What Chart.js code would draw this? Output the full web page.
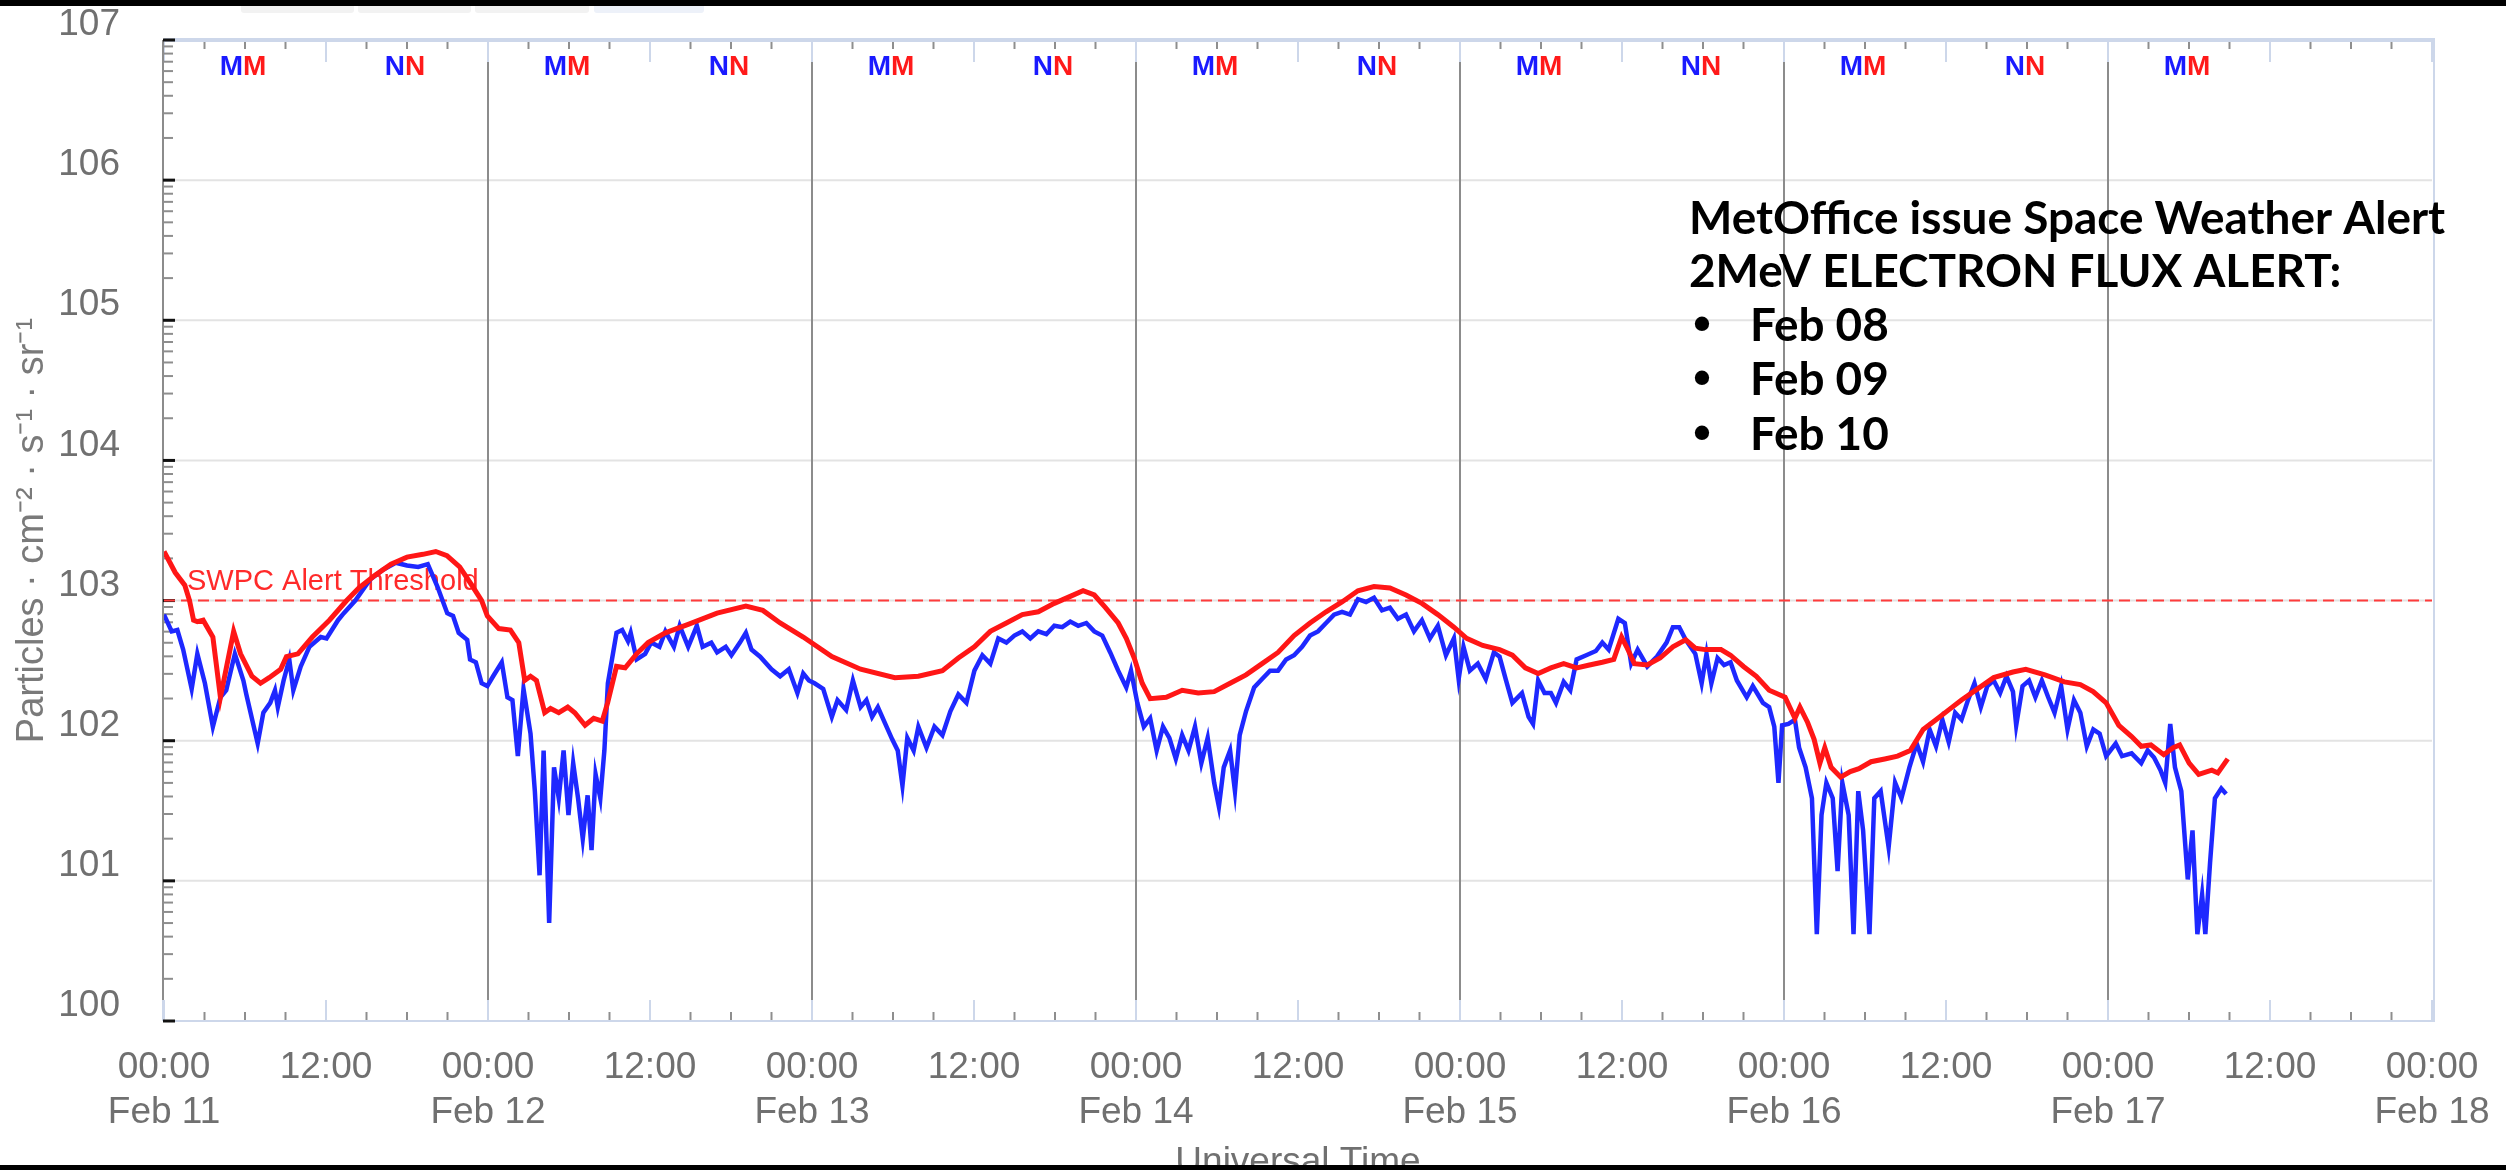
<!DOCTYPE html>
<html>
<head>
<meta charset="utf-8">
<title>GOES electron flux</title>
<script src="https://cdn.jsdelivr.net/npm/chart.js@4.4.1/dist/chart.umd.min.js"></script>
<style>
html,body{margin:0;padding:0;background:#fff;overflow:hidden;}
#wrap{position:relative;width:2506px;height:1170px;background:#fff;}
#c{position:absolute;left:0;top:0;}
.band{position:absolute;left:0;width:2506px;background:#000;}
.tab{position:absolute;top:6px;height:7px;background:#f2f2f2;border-radius:0 0 3px 3px;}
</style>
</head>
<body>
<div id="wrap">
<canvas id="c" width="2506" height="1170"></canvas>
<div class="tab" style="left:241px;width:113px"></div>
<div class="tab" style="left:358px;width:113px"></div>
<div class="tab" style="left:475px;width:114px"></div>
<div class="tab" style="left:594px;width:110px;background:#edf1f9"></div>
<div class="band" style="top:0;height:6px"></div>
<div class="band" style="top:1165px;height:5px"></div>
</div>
<script>
// ---------------- DATA (hours since Feb 11 00:00 UT, log10 of flux) ----------------
const dayLabels = ['Feb 11','Feb 12','Feb 13','Feb 14','Feb 15','Feb 16','Feb 17','Feb 18'];
const xTickHours = [0,12,24,36,48,60,72,84,96,108,120,132,144,156,168];
const yTickValues = [0,1,2,3,4,5,6,7];
const yTickLabels = ['100','101','102','103','104','105','106','107'];
const yTitle = 'Particles \u00b7 cm\u207b\u00b2 \u00b7 s\u207b\u00b9 \u00b7 sr\u207b\u00b9';
const xTitle = 'Universal Time';
const alertThreshold = 3;          // log10(1000)
const alertLabel = 'SWPC Alert Threshold';

const blueHours = [
0,0.57,0.99,1.42,2.05,2.47,3.03,3.62,4.18,4.61,
5.25,5.88,6.10,6.94,7.36,7.87,8.22,8.43,8.86,9.28,
9.58,10.13,10.77,11.61,12.04,12.89,13.32,14.17,15.27,16.22,
17.17,18.00,18.83,19.54,20.25,20.98,21.41,21.83,22.46,22.67,
23.10,23.53,23.95,24.38,25.02,25.44,25.81,26.21,26.63,27.15,
27.47,27.82,28.12,28.53,28.89,29.24,29.60,29.96,30.31,30.67,
31.02,31.38,31.67,31.97,32.32,32.62,32.88,33.52,33.94,34.37,
34.57,35.01,35.64,36.08,36.70,37.14,37.77,38.20,38.83,39.47,
39.90,40.54,40.97,41.61,42.03,42.66,43.10,43.52,44.16,45.00,
45.64,46.28,46.92,47.35,47.77,48.19,48.83,49.47,49.89,50.53,
51.03,51.60,52.03,52.45,52.88,53.52,53.94,54.35,54.70,55.06,
55.53,55.88,56.48,57.07,57.66,58.25,58.84,59.44,60.03,60.62,
61.21,61.80,62.40,62.99,63.58,64.17,64.76,65.36,65.95,66.54,
67.13,67.72,68.32,68.91,69.50,70.09,70.68,71.28,71.63,72.10,
72.58,73.05,73.53,74.00,74.47,74.95,75.42,75.89,76.37,76.84,
77.31,77.79,78.14,78.50,78.97,79.33,79.68,80.15,80.75,81.34,
81.93,82.52,83.12,83.71,84.30,84.89,85.48,86.08,86.67,87.26,
87.85,88.44,89.04,89.63,90.22,90.81,91.40,92.00,92.59,93.18,
93.77,94.36,94.96,95.55,95.90,96.26,96.73,97.32,97.91,98.51,
98.93,99.41,99.88,100.59,101.08,101.41,101.79,102.26,102.73,103.11,
103.68,104.17,104.64,105.35,106.06,106.54,107.01,107.73,108.21,108.68,
109.16,109.87,110.59,111.30,111.77,112.24,112.72,113.43,113.90,114.26,
114.62,115.08,115.56,116.04,116.51,117.24,117.69,118.19,118.44,118.90,
119.28,119.59,119.86,120.33,120.81,121.12,121.60,122.07,122.43,122.78,
123.14,123.61,123.97,124.32,124.79,125.15,125.50,125.86,126.33,126.69,
127.16,127.75,128.23,128.70,129.29,129.83,130.30,130.79,131.26,131.73,
132.20,132.68,133.15,133.63,134.11,134.58,135.06,135.53,136.01,136.48,
136.96,137.20,137.67,138.15,138.62,139.10,139.57,140.04,140.53,141.00,
141.48,141.95,142.43,142.91,143.38,143.86,144.57,145.04,145.75,146.46,
146.94,147.41,147.89,148.24,148.61,148.96,149.43,149.91,150.26,150.62,
150.97,151.21,151.56,151.92,152.39,152.75];

const blueLog = [
2.90,2.78,2.79,2.65,2.37,2.62,2.41,2.10,2.31,2.36,
2.62,2.43,2.33,1.98,2.20,2.27,2.36,2.24,2.43,2.58,
2.36,2.53,2.67,2.74,2.73,2.86,2.91,3.00,3.15,3.22,
3.27,3.25,3.24,3.26,3.10,2.91,2.89,2.77,2.72,2.58,
2.56,2.41,2.39,2.46,2.56,2.31,2.29,1.89,2.37,2.05,
1.64,1.04,1.93,0.70,1.81,1.59,1.93,1.47,1.84,1.59,
1.30,1.61,1.22,1.76,1.59,1.93,2.41,2.77,2.79,2.71,
2.77,2.58,2.62,2.70,2.67,2.78,2.67,2.82,2.67,2.82,
2.67,2.70,2.63,2.67,2.61,2.70,2.77,2.65,2.60,2.51,
2.46,2.51,2.34,2.48,2.43,2.41,2.37,2.17,2.29,2.22,
2.43,2.24,2.29,2.17,2.24,2.10,2.01,1.93,1.68,2.02,
1.93,2.10,1.95,2.10,2.04,2.21,2.33,2.27,2.50,2.61,
2.55,2.73,2.70,2.75,2.78,2.73,2.78,2.76,2.82,2.81,
2.85,2.82,2.84,2.78,2.75,2.63,2.50,2.38,2.50,2.27,
2.10,2.16,1.93,2.10,2.02,1.87,2.04,1.93,2.10,1.84,
2.02,1.70,1.53,1.81,1.93,1.64,2.04,2.21,2.38,2.44,
2.50,2.50,2.58,2.61,2.67,2.75,2.78,2.84,2.90,2.92,
2.90,3.01,2.99,3.02,2.93,2.95,2.87,2.90,2.78,2.86,
2.73,2.82,2.61,2.73,2.44,2.67,2.50,2.55,2.44,2.63,
2.60,2.43,2.27,2.34,2.17,2.12,2.43,2.34,2.34,2.27,
2.42,2.36,2.58,2.61,2.64,2.70,2.65,2.87,2.84,2.55,
2.65,2.53,2.60,2.70,2.81,2.81,2.72,2.62,2.41,2.62,
2.41,2.59,2.54,2.56,2.43,2.31,2.39,2.31,2.27,2.24,
2.10,1.70,2.11,2.12,2.15,1.95,1.81,1.59,0.62,1.47,
1.70,1.59,1.07,1.70,1.47,0.62,1.64,1.36,0.62,1.59,
1.64,1.24,1.70,1.59,1.81,1.98,1.85,2.08,1.96,2.15,
1.99,2.20,2.15,2.29,2.41,2.24,2.39,2.43,2.34,2.46,
2.35,2.11,2.39,2.43,2.31,2.43,2.31,2.20,2.39,2.08,
2.29,2.20,1.96,2.08,2.05,1.89,1.98,1.89,1.91,1.84,
1.93,1.88,1.79,1.70,2.12,1.81,1.64,1.01,1.36,0.62,
0.90,0.62,1.13,1.59,1.66,1.62];

const redHours = [
0,0.83,1.54,1.89,2.19,2.47,2.90,3.62,4.18,4.62,
5.16,5.67,6.51,7.15,7.79,8.64,9.07,9.92,10.99,12.25,
13.53,14.44,15.63,16.81,18.00,19.18,20.13,20.96,21.90,22.73,
23.53,23.95,24.80,25.66,26.28,26.72,27.15,27.59,28.20,28.63,
29.24,29.91,30.43,31.19,31.83,32.46,32.86,33.52,34.16,35.01,
35.86,37.14,38.83,40.97,43.10,44.36,45.64,47.35,49.47,51.60,
54.14,55.88,57.66,58.84,60.03,61.21,62.40,63.58,64.76,65.95,
67.13,68.08,68.91,69.74,70.68,71.28,71.87,72.46,73.05,74.24,
75.42,76.61,77.79,78.97,80.15,81.34,82.52,83.71,84.89,86.08,
87.26,88.44,89.63,90.81,92.00,93.18,94.36,95.55,96.49,97.68,
98.93,99.88,100.84,101.79,102.73,103.68,104.64,105.59,106.54,107.39,
107.97,108.34,108.92,109.87,110.82,111.77,112.72,113.43,114.15,115.33,
116.04,117.00,117.95,118.90,119.37,120.08,120.81,121.18,121.75,122.23,
122.66,123.02,123.49,124.20,124.91,125.55,126.45,127.46,128.41,129.35,
130.31,131.26,132.20,133.15,134.34,135.53,136.96,137.91,139.33,140.77,
141.95,142.90,143.86,144.80,145.75,146.46,147.18,148.13,148.83,149.31,
150.01,150.72,151.69,152.14,152.87];

const redLog = [
3.35,3.20,3.11,3.00,2.86,2.85,2.86,2.74,2.31,2.52,
2.78,2.62,2.46,2.41,2.45,2.51,2.60,2.62,2.74,2.86,
3.00,3.09,3.18,3.26,3.31,3.33,3.35,3.32,3.24,3.12,
3.00,2.89,2.80,2.79,2.70,2.43,2.46,2.43,2.20,2.23,
2.20,2.24,2.20,2.11,2.16,2.14,2.27,2.53,2.52,2.62,
2.70,2.77,2.83,2.91,2.96,2.93,2.84,2.74,2.60,2.51,
2.45,2.46,2.50,2.59,2.67,2.78,2.84,2.90,2.92,2.98,
3.03,3.07,3.04,2.95,2.84,2.73,2.59,2.41,2.30,2.31,
2.36,2.34,2.35,2.41,2.47,2.55,2.63,2.75,2.84,2.92,
2.99,3.07,3.10,3.09,3.04,2.98,2.90,2.81,2.73,2.68,
2.65,2.61,2.52,2.48,2.52,2.55,2.52,2.54,2.56,2.58,
2.74,2.67,2.55,2.54,2.59,2.67,2.72,2.66,2.65,2.65,
2.61,2.53,2.46,2.36,2.34,2.31,2.16,2.24,2.13,2.01,
1.84,1.95,1.81,1.74,1.78,1.80,1.85,1.87,1.89,1.93,
2.08,2.15,2.22,2.29,2.37,2.45,2.49,2.51,2.47,2.42,
2.40,2.35,2.27,2.11,2.03,1.96,1.97,1.90,1.95,1.97,
1.84,1.76,1.79,1.77,1.87];

// satellite local midnight (M) / noon (N) markers
const markerHours   = [5.85,17.85,29.85,41.85,53.85,65.85,77.85,89.85,101.85,113.85,125.85,137.85,149.85];
const markerLetters = ['M','N','M','N','M','N','M','N','M','N','M','N','M'];

const noteLines  = ['MetOffice issue Space Weather Alert','2MeV ELECTRON FLUX ALERT:'];
const alertDates = ['Feb 08','Feb 09','Feb 10'];

// ---------------- BUILD ----------------
function pairs(hs, vs){ const n=Math.min(hs.length,vs.length); const out=[]; for(let i=0;i<n;i++) out.push({x:hs[i],y:vs[i]}); return out; }

const SANS = '"Liberation Sans", Arial, Helvetica, sans-serif';
const LABEL_GRAY = '#707070';
const LIGHT_BLUE = '#cdd7ea';

function line(ctx,x1,y1,x2,y2){ ctx.beginPath(); ctx.moveTo(x1,y1); ctx.lineTo(x2,y2); ctx.stroke(); }

const framePlugin = {
  id:'frame',
  beforeDatasetsDraw(chart){
    const {ctx, chartArea:{left,right,top,bottom}, scales:{x,y}} = chart;
    const stripTop = top + 22, stripBot = bottom - 21;
    ctx.save();
    // horizontal decade gridlines
    ctx.strokeStyle = '#e3e3e3'; ctx.lineWidth = 2;
    yTickValues.forEach(v => { if (v>0 && v<7){ const py=y.getPixelForValue(v); line(ctx,left,py,right,py); } });
    // 12h light lines in top/bottom strips
    ctx.strokeStyle = LIGHT_BLUE; ctx.lineWidth = 2;
    xTickHours.forEach(h => { const px=x.getPixelForValue(h); line(ctx,px,top,px,stripTop); line(ctx,px,stripBot,px,bottom); });
    // 3h minor ticks
    ctx.strokeStyle = '#8e8e8e'; ctx.lineWidth = 2;
    for (let h=3; h<168; h+=3){ if (h%12===0) continue; const px=x.getPixelForValue(h); line(ctx,px,top+2,px,top+9); line(ctx,px,bottom-9,px,bottom); }
    // day separators
    ctx.strokeStyle = '#8c8c8c'; ctx.lineWidth = 2;
    for (let d=1; d<7; d++){ const px=x.getPixelForValue(d*24); line(ctx,px,stripTop,px,stripBot); }
    // left axis line
    ctx.strokeStyle = '#8c8c8c'; line(ctx,left-1,top,left-1,stripBot);
    ctx.strokeStyle = LIGHT_BLUE; line(ctx,left-1,stripBot,left-1,bottom);
    // frame: top (thick), right, bottom
    ctx.strokeStyle = LIGHT_BLUE;
    ctx.lineWidth = 4; line(ctx,left,top,right+3,top);
    ctx.lineWidth = 2; line(ctx,right+2,top,right+2,bottom); line(ctx,left,bottom,right+3,bottom);
    // y minor ticks (log)
    ctx.strokeStyle = '#8e8e8e'; ctx.lineWidth = 2;
    for (let n=0; n<7; n++) for (let k=2; k<=9; k++){ const py=y.getPixelForValue(n+Math.log10(k)); line(ctx,left-1,py,left+9,py); }
    // y major ticks
    ctx.strokeStyle = '#111'; ctx.lineWidth = 3;
    yTickValues.forEach(v => { const py=y.getPixelForValue(v); line(ctx,left-1,py,left+11,py); });
    // alert threshold
    const ty = y.getPixelForValue(alertThreshold);
    ctx.strokeStyle = '#ff3b3b'; ctx.lineWidth = 2; ctx.setLineDash([11,6]);
    line(ctx,left,ty,right,ty); ctx.setLineDash([]);
    ctx.fillStyle = '#ff2a2a'; ctx.font = '29px '+SANS; ctx.textAlign='left'; ctx.textBaseline='middle';
    ctx.fillText(alertLabel, left+23, ty-19);
    ctx.restore();
  },
  afterDatasetsDraw(chart){
    const {ctx, chartArea:{left,right,top,bottom}, scales:{x}} = chart;
    ctx.save();
    // M / N markers (blue then red)
    ctx.font = 'bold 28px '+SANS; ctx.textBaseline='alphabetic'; ctx.textAlign='left';
    markerHours.forEach((h,i) => {
      const L = markerLetters[i]; const w = ctx.measureText(L).width; const cx = x.getPixelForValue(h);
      ctx.fillStyle = '#1a1aff'; ctx.fillText(L, cx-w, top+35);
      ctx.fillStyle = '#ff1a1a'; ctx.fillText(L, cx, top+35);
    });
    // annotation block
    const fam = 'Lato, "Open Sans", sans-serif';
    ctx.font = 'bold 40px '+fam;
    const w40 = ctx.measureText(noteLines[0]).width;
    const fs = 40*757/w40;
    const noteFont = 'bold '+fs.toFixed(1)+'px '+fam;
    ctx.font = noteFont;
    ctx.fillStyle = '#000'; ctx.textBaseline='middle'; ctx.textAlign='left';
    ctx.fillText(noteLines[0], 1689, 219);
    ctx.fillText(noteLines[1], 1689, 272);
    alertDates.forEach((d,i) => {
      const yy = 326 + i*54.5;
      ctx.font = 'bold 50px '+SANS; ctx.textAlign='center'; ctx.fillText('\u2022', 1702, yy);
      ctx.font = noteFont; ctx.textAlign='left'; ctx.fillText(d, 1750, yy);
    });
    // x axis title (partly cut by the bottom edge)
    ctx.font = '37px '+SANS; ctx.fillStyle = LABEL_GRAY; ctx.textAlign='center'; ctx.textBaseline='alphabetic';
    ctx.fillText(xTitle, (left+right)/2, 1173);
    ctx.restore();
  }
};

const chart = new Chart(document.getElementById('c'), {
  type:'line',
  data:{ datasets:[
    { label:'GOES-18 (red)', data:pairs(redHours, redLog), borderColor:'#ff1616', borderWidth:5, pointRadius:0, tension:0, fill:false },
    { label:'GOES-16 (blue)', data:pairs(blueHours, blueLog), borderColor:'#1e28ff', borderWidth:4.5, pointRadius:0, tension:0, fill:false }
  ]},
  options:{
    responsive:false, animation:false, devicePixelRatio:1,
    layout:{ padding:{ top:40, right:74, left:0, bottom:0 } },
    plugins:{ legend:{display:false}, tooltip:{enabled:false} },
    scales:{
      x:{ type:'linear', min:0, max:168,
          grid:{display:false}, border:{display:false},
          afterBuildTicks: s => { s.ticks = xTickHours.map(v => ({value:v})); },
          ticks:{ autoSkip:false, maxRotation:0, minRotation:0, padding:17, color:LABEL_GRAY,
                  font:{family:SANS, size:37},
                  callback:(v) => (v % 24 === 0) ? ['00:00', dayLabels[v/24]] : '12:00' },
          afterFit: s => { s.height = 149; s.paddingLeft = 0; s.paddingRight = 0; } },
      y:{ type:'linear', min:0, max:7,
          grid:{display:false}, border:{display:false},
          afterBuildTicks: s => { s.ticks = yTickValues.map(v => ({value:v})); },
          ticks:{ labelOffset:-15, padding:36, color:LABEL_GRAY, font:{family:SANS, size:37},
                  callback:(v) => yTickLabels[yTickValues.indexOf(v)] },
          title:{ display:true, text:yTitle, color:'#7a7a7a', font:{family:SANS, size:38}, padding:{top:10, bottom:0} },
          afterFit: s => { s.width = 164; s.paddingTop = 0; s.paddingBottom = 0; } }
    }
  },
  plugins:[framePlugin]
});
</script>
</body>
</html>
